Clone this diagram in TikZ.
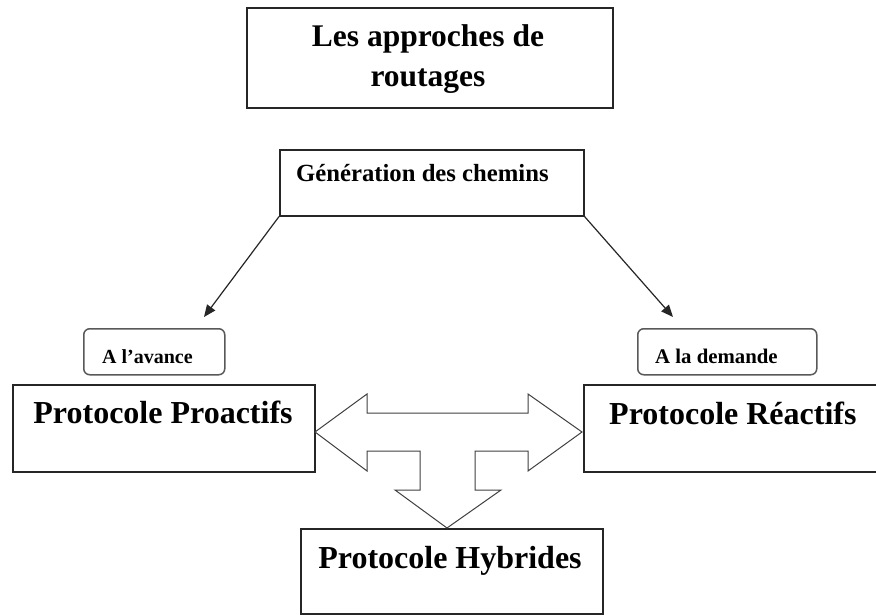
\documentclass[tikz,border=0pt]{standalone}
\usepackage{fontspec}
\setmainfont{Liberation Serif}
\usetikzlibrary{arrows.meta}
\tikzset{
  box/.style={draw=black!85, line width=1.6pt, fill=white, inner sep=0pt, anchor=north west},
  tag/.style={draw=black!65, line width=1.5pt, rounded corners=6pt, fill=white, inner sep=0pt, anchor=north west},
  txt/.style={inner sep=0pt, font=\bfseries},
  link/.style={draw=black!85, line width=1.2pt, -{Triangle[length=12pt,width=10pt]}},
  bigarrow/.style={draw=black!75, line width=1pt, fill=white, line join=miter}
}
\begin{document}
\begin{tikzpicture}[x=1pt,y=-1pt]
\useasboundingbox (0,0) rectangle (876,615);
\clip (0,0) rectangle (876,615);
\fill[white] (0,0) rectangle (876,615);

% title
\node[box, minimum width=366pt, minimum height=100pt] (title) at (246,7) {};
\node[txt, anchor=base, font=\bfseries\fontsize{31.5}{38}\selectfont] (t1) at (428,47) {Les approches de};
\node[txt, anchor=base, font=\bfseries\fontsize{31.5}{38}\selectfont] (t2) at (428,87) {routages};

% path generation
\node[box, minimum width=304pt, minimum height=66pt] (gen) at (279,149) {};
\node[txt, anchor=base west, font=\bfseries\fontsize{24.7}{29}\selectfont] (gentxt) at (296,182) {Génération des chemins};

% arrow ends
\coordinate (tipL) at (204,317);
\coordinate (tipR) at (673,317);
\draw[link] (gen.south west) -- (tipL);
\draw[link] (gen.south east) -- (tipR);

% small tags
\node[tag, minimum width=141pt, minimum height=46pt] (avance) at (83,328) {};
\node[txt, anchor=base west, font=\bfseries\fontsize{20}{24}\selectfont] (avtxt) at (102,363) {A l’avance};
\node[tag, minimum width=179pt, minimum height=46pt] (demande) at (637,328) {};
\node[txt, anchor=base west, font=\bfseries\fontsize{20.8}{24}\selectfont] (detxt) at (655,363) {A la demande};

% protocol boxes
\node[box, minimum width=302pt, minimum height=87pt] (pro) at (12,384) {};
\node[txt, anchor=base, font=\bfseries\fontsize{32}{38}\selectfont] (protxt) at (163,423) {Protocole Proactifs};
\node[box, minimum width=302pt, minimum height=87pt] (rea) at (583,384) {};
\node[txt, anchor=base west, font=\bfseries\fontsize{32}{38}\selectfont] (reatxt) at (609,424) {Protocole Réactifs};
\node[box, minimum width=302pt, minimum height=85pt] (hyb) at (300,528) {};
\node[txt, anchor=base, font=\bfseries\fontsize{32}{38}\selectfont] (hybtxt) at (450,568) {Protocole Hybrides};

% three-way block arrow
\draw[bigarrow] (315,432) -- (367,394) -- (367,413) -- (528,413) -- (528,394) -- (582,432)
  -- (528,471) -- (528,451) -- (475,451) -- (475,490) -- (501,490) -- (447,528)
  -- (395,490) -- (420,490) -- (420,451) -- (367,451) -- (367,471) -- cycle;
\end{tikzpicture}
\end{document}
